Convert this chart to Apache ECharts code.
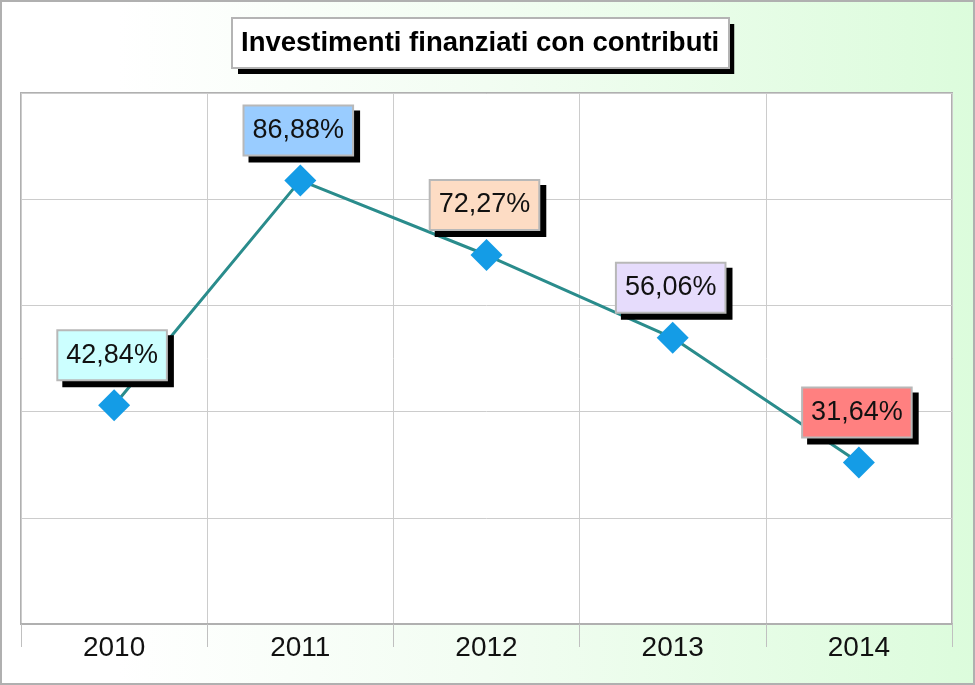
<!DOCTYPE html>
<html>
<head>
<meta charset="utf-8">
<script src="https://cdn.jsdelivr.net/npm/echarts@6/dist/echarts.min.js"></script>
<style>
html,body{margin:0;padding:0;background:#fff;}
#chart{width:975px;height:685px;}
</style>
</head>
<body>
<div id="chart"></div>
<script>
var titleText = 'Investimenti finanziati con contributi';
var categories = ['2010', '2011', '2012', '2013', '2014'];
var values = [42.84, 86.88, 72.27, 56.06, 31.64];
var labelColors = ['#ccffff', '#99ccff', '#fddcc4', '#e6dcfc', '#ff8080'];

var chart = echarts.init(document.getElementById('chart'), null, {renderer: 'canvas'});

var fontFam = '"Liberation Sans", Arial, sans-serif';

function fmt(p) {
  return p.value.toFixed(2).replace('.', ',') + '%';
}

var labelBase = {
  show: true,
  position: 'top',
  distance: 10,
  formatter: fmt,
  fontFamily: fontFam,
  fontSize: 27,
  lineHeight: 30,
  padding: [9, 8, 9, 8]
};

var mainData = values.map(function (v, i) {
  return { value: v, label: { backgroundColor: labelColors[i] } };
});

var invisibleLine = { opacity: 0, width: 0 };
var invisibleItem = { color: 'rgba(0,0,0,0)', borderWidth: 0 };

chart.setOption({
  animation: false,
  backgroundColor: {
    type: 'linear', x: 0, y: 0, x2: 1, y2: 0,
    colorStops: [
      {offset: 0, color: '#ffffff'},
      {offset: 0.12, color: '#ffffff'},
      {offset: 0.5, color: '#f2fdf2'},
      {offset: 1, color: '#dcfcdc'}
    ]
  },
  title: {
    text: titleText,
    left: 232,
    top: 18,
    padding: [11, 9, 11, 9],
    backgroundColor: '#ffffff',
    borderWidth: 0,
    shadowColor: '#000000',
    shadowBlur: 0,
    shadowOffsetX: 6,
    shadowOffsetY: 6,
    textStyle: {
      fontFamily: fontFam,
      fontWeight: 'bold',
      fontSize: 27.5,
      color: '#000000',
      lineHeight: 28
    }
  },
  grid: {
    left: 21, right: 23, top: 93, bottom: 61,
    show: true,
    backgroundColor: '#ffffff',
    borderColor: '#b0b0b0',
    borderWidth: 2
  },
  xAxis: {
    type: 'category',
    data: categories,
    boundaryGap: true,
    axisLine: { show: true, lineStyle: { color: '#b0b0b0', width: 2 } },
    axisTick: { show: true, length: 23, lineStyle: { color: '#c0c0c0', width: 1 } },
    axisLabel: {
      fontFamily: fontFam, fontSize: 28, color: '#111111', margin: 10
    },
    splitLine: { show: true, lineStyle: { color: '#cccccc', width: 1 } }
  },
  yAxis: {
    type: 'value',
    min: 0,
    max: 104,
    interval: 20.8,
    axisLine: { show: false },
    axisTick: { show: false },
    axisLabel: { show: false },
    splitLine: { show: true, lineStyle: { color: '#cccccc', width: 1 } }
  },
  series: [
    {
      name: 'line',
      type: 'line',
      data: values,
      symbol: 'diamond',
      symbolSize: 32,
      lineStyle: { color: '#2a8c8c', width: 3 },
      itemStyle: { color: '#149ce6' },
      label: { show: false },
      z: 2
    },
    {
      name: 'labelShadow',
      type: 'line',
      data: values,
      symbol: 'diamond',
      symbolSize: 32,
      lineStyle: invisibleLine,
      itemStyle: invisibleItem,
      label: Object.assign({}, labelBase, {
        offset: [4, 6],
        color: 'rgba(0,0,0,0)',
        backgroundColor: '#000000',
        borderColor: '#000000',
        borderWidth: 2
      }),
      z: 3,
      silent: true
    },
    {
      name: 'labelMain',
      type: 'line',
      data: mainData,
      symbol: 'diamond',
      symbolSize: 32,
      lineStyle: invisibleLine,
      itemStyle: invisibleItem,
      label: Object.assign({}, labelBase, {
        offset: [-2, 0],
        color: '#111111',
        borderColor: '#b8b8b8',
        borderWidth: 2
      }),
      z: 4,
      silent: true
    }
  ],
  graphic: [
    {
      type: 'rect',
      shape: { x: 232, y: 18, width: 497, height: 50 },
      style: { fill: 'none', stroke: '#b4b4b4', lineWidth: 2 },
      z: 50,
      silent: true
    },
    {
      type: 'rect',
      shape: { x: 1, y: 1, width: 973, height: 683 },
      style: { fill: 'none', stroke: '#b0b0b0', lineWidth: 2 },
      z: 100,
      silent: true
    }
  ]
});
</script>
</body>
</html>
